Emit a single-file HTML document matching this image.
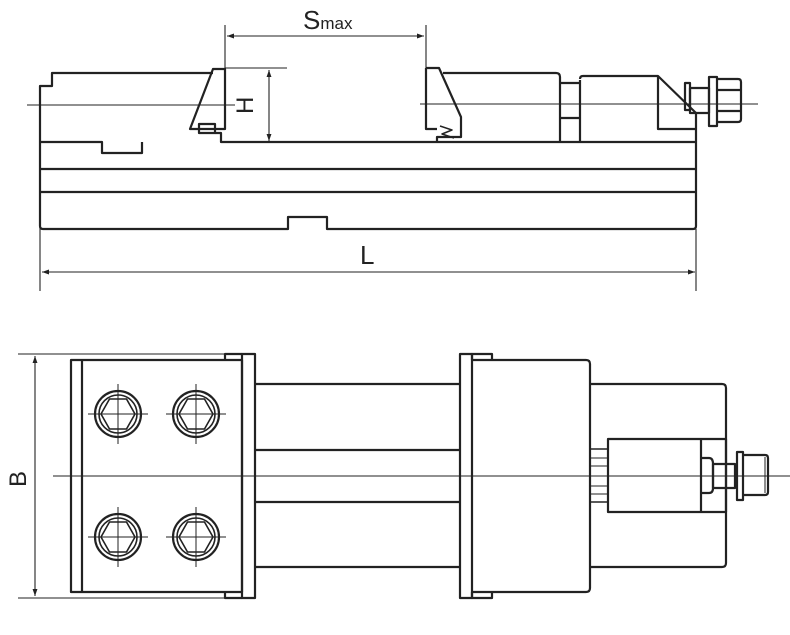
<!DOCTYPE html>
<html><head><meta charset="utf-8"><style>html,body{margin:0;padding:0;background:#fff}svg{display:block}</style></head><body>
<svg width="790" height="635" viewBox="0 0 790 635" xmlns="http://www.w3.org/2000/svg">
<defs>
<marker id="a" viewBox="0 0 10 10" refX="10" refY="5" markerWidth="12" markerHeight="7" orient="auto-start-reverse" markerUnits="userSpaceOnUse"><path d="M0,1.5 L10,5 L0,8.5 Z" fill="#222"/></marker>
</defs>
<g fill="none" stroke="#222" stroke-width="1.1">
<line x1="40" y1="228" x2="40" y2="291"/>
<line x1="696" y1="229" x2="696" y2="291"/>
<line x1="42" y1="272" x2="695" y2="272" marker-start="url(#a)" marker-end="url(#a)"/>
<line x1="225" y1="25" x2="225" y2="69"/>
<line x1="426" y1="25" x2="426" y2="68"/>
<line x1="227" y1="36" x2="424" y2="36" marker-start="url(#a)" marker-end="url(#a)"/>
<line x1="225" y1="68" x2="287" y2="68"/>
<line x1="269" y1="70" x2="269" y2="141" marker-start="url(#a)" marker-end="url(#a)"/>
<line x1="27" y1="105" x2="235" y2="105"/>
<line x1="420" y1="104" x2="758" y2="104"/>
<line x1="18" y1="354" x2="225" y2="354"/>
<line x1="18" y1="598" x2="225" y2="598"/>
<line x1="35" y1="356" x2="35" y2="596" marker-start="url(#a)" marker-end="url(#a)"/>
<line x1="53" y1="476" x2="790" y2="476"/>
</g>
<g fill="none" stroke="#222" stroke-width="2.2" stroke-linejoin="round">
<path d="M213,73 H52 V86 H40 V226 Q40,229 43,229 H288 V217 H327 V229 H693 Q696,229 696,226 V142 H221 V133 H215"/>
<path d="M40,142 H102 V153 H142 V142"/>
<line x1="40" y1="169" x2="696" y2="169"/>
<line x1="40" y1="192" x2="696" y2="192"/>
<path d="M213,69 H225 V129 H190 Z"/>
<rect x="199" y="124" width="16" height="9"/>
<path d="M426,68 H439 L461,117 V137 H437 V142 M426,68 V129 H437"/>
<path d="M440,126 L452,130 L442,134 L454,138" stroke-width="1.5"/>
<path d="M443,73 H556 Q560,73 560,77 V142"/>
<path d="M560,83 H580 M560,118 H580 M580,80 V142"/>
<path d="M580,79 Q580,76 583,76 H658 L696,113 V142 M658,76 V129 H696"/>
<rect x="685" y="83" width="5" height="27"/>
<rect x="690" y="88" width="19" height="25"/>
<rect x="709" y="77" width="8" height="49"/>
<path d="M717,79 H738 Q741,79 741,82 V119 Q741,122 738,122 H717 M717,90 H741 M717,111 H741"/>
<rect x="71" y="360" width="171" height="232"/>
<line x1="82" y1="360" x2="82" y2="592"/>
<rect x="242" y="354" width="13" height="244"/>
<path d="M225,360 V354 H242 M225,592 V598 H242"/>
<line x1="255" y1="384" x2="460" y2="384"/>
<line x1="255" y1="450" x2="460" y2="450"/>
<line x1="255" y1="502" x2="460" y2="502"/>
<line x1="255" y1="567" x2="460" y2="567"/>
<rect x="460" y="354" width="12" height="244"/>
<path d="M472,360 V354 H492 V360 M472,592 V598 H492 V592"/>
<path d="M472,360 H586 Q590,360 590,364 V588 Q590,592 586,592 H472"/>
<path d="M590,384 H722 Q726,384 726,388 V563 Q726,567 722,567 H590"/>
<rect x="608" y="439" width="118" height="73"/>
<line x1="701" y1="439" x2="701" y2="512"/>
<path d="M590,449 H608 M590,502 H608" stroke-width="1.5"/>
<path d="M590,458 H608 M590,466 H608 M590,486 H608 M590,494 H608" stroke-width="1"/>
<path d="M701,458 H709 Q713,458 713,464 V488 Q713,493 709,493 H701"/>
<rect x="713" y="464" width="22" height="24"/>
<rect x="737" y="452" width="6" height="48"/>
<path d="M743,455 H765 Q768,455 768,458 V492 Q768,495 765,495 H743"/>
<line x1="765" y1="457" x2="765" y2="493" stroke-width="1"/>
</g>
<g fill="none" stroke="#222">
<g id="bolt" transform="translate(118,414)">
<circle r="23" stroke-width="2.2"/><circle r="19" stroke-width="1.6"/>
<polygon points="-17,0 -8.5,-15 8.5,-15 17,0 8.5,15 -8.5,15" stroke-width="1.6"/>
<line x1="-30" y1="0" x2="30" y2="0" stroke-width="1"/><line x1="0" y1="-30" x2="0" y2="30" stroke-width="1"/>
</g>
<use href="#bolt" x="78" y="0"/>
<use href="#bolt" x="0" y="123"/>
<use href="#bolt" x="78" y="123"/>
</g>
<g font-family="Liberation Sans, sans-serif" fill="#222">
<text x="303" y="29" font-size="26">S<tspan font-size="17">max</tspan></text>
<text x="360" y="264" font-size="26">L</text>
<text transform="translate(253,114) rotate(-90)" font-size="24">H</text>
<text transform="translate(26,487) rotate(-90)" font-size="24">B</text>
</g>
</svg>
</body></html>
